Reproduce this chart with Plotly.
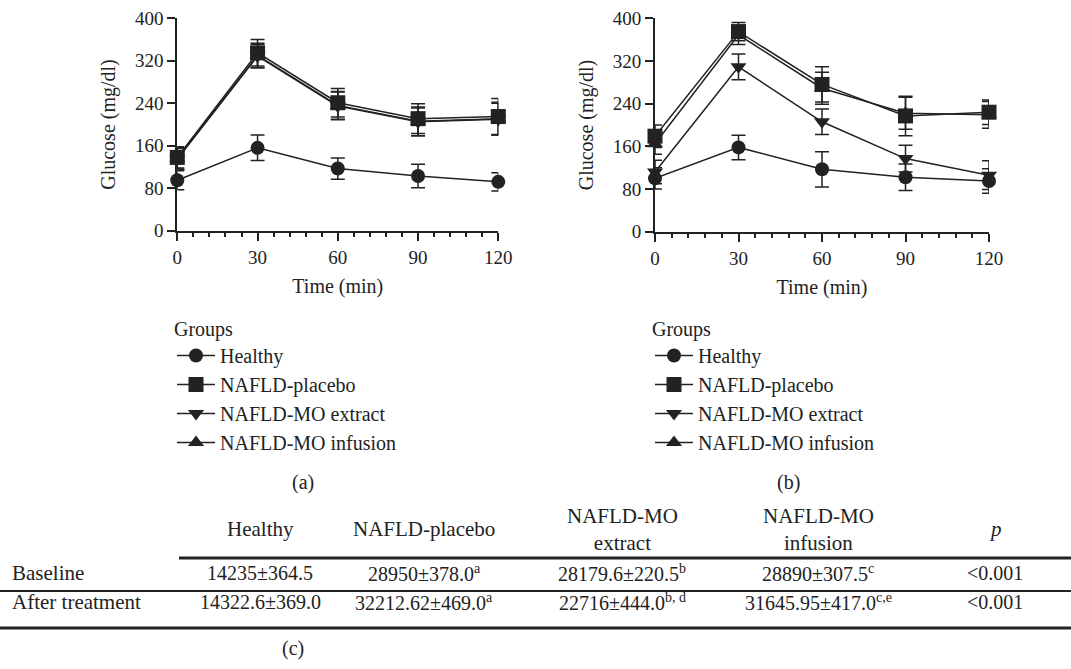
import plotly.graph_objects as go

# ---------------- data ----------------
time_min = [0, 30, 60, 90, 120]
groups = ["Healthy", "NAFLD-placebo", "NAFLD-MO extract", "NAFLD-MO infusion"]

# panel (a): baseline
a_healthy = [95, 156, 117, 103, 92]
a_healthy_sd = [18, 24, 20, 22, 17]
a_placebo = [138, 335, 241, 211, 215]
a_placebo_sd = [20, 25, 27, 28, 34]
a_extract = [135, 329, 235, 205, 210]
a_extract_sd = [20, 22, 26, 26, 30]
a_infusion = [136, 330, 236, 206, 211]
a_infusion_sd = [20, 23, 26, 27, 31]

# panel (b): after treatment
b_healthy = [100, 158, 117, 102, 95]
b_healthy_sd = [20, 23, 33, 25, 23]
b_placebo = [179, 375, 276, 217, 224]
b_placebo_sd = [21, 17, 33, 37, 23]
b_extract = [112, 309, 206, 137, 106]
b_extract_sd = [22, 24, 24, 25, 27]
b_infusion = [165, 369, 269, 222, 219]
b_infusion_sd = [20, 18, 30, 30, 25]

y_ticks = [0, 80, 160, 240, 320, 400]
x_ticks = [0, 30, 60, 90, 120]

# panel (c): table
table_columns = ["Healthy", "NAFLD-placebo", "NAFLD-MO<br>extract", "NAFLD-MO<br>infusion", "<i>p</i>"]
row_labels = ["Baseline", "After treatment"]
baseline_values = ["14235±364.5", "28950±378.0<sup>a</sup>", "28179.6±220.5<sup>b</sup>",
                   "28890±307.5<sup>c</sup>", "<0.001"]
after_values = ["14322.6±369.0", "32212.62±469.0<sup>a</sup>", "22716±444.0<sup>b, d</sup>",
                "31645.95±417.0<sup>c,e</sup>", "<0.001"]

# ---------------- style ----------------
W, H = 1071, 669
FONT = "Liberation Serif, Times New Roman, serif"
INK = "#222222"
px = lambda v: v / W
py = lambda v: 1 - v / H

symbols = {"Healthy": "circle", "NAFLD-placebo": "square",
           "NAFLD-MO extract": "triangle-down", "NAFLD-MO infusion": "triangle-up"}
msize = {"Healthy": 14, "NAFLD-placebo": 15, "NAFLD-MO extract": 14, "NAFLD-MO infusion": 14}
rank = {g: i for i, g in enumerate(groups)}

fig = go.Figure()

panels = [
    ("x", "y", "legend", {"Healthy": (a_healthy, a_healthy_sd), "NAFLD-MO extract": (a_extract, a_extract_sd),
                          "NAFLD-MO infusion": (a_infusion, a_infusion_sd), "NAFLD-placebo": (a_placebo, a_placebo_sd)}),
    ("x2", "y2", "legend2", {"Healthy": (b_healthy, b_healthy_sd), "NAFLD-MO extract": (b_extract, b_extract_sd),
                             "NAFLD-MO infusion": (b_infusion, b_infusion_sd), "NAFLD-placebo": (b_placebo, b_placebo_sd)}),
]

for xa, ya, leg, series in panels:
    for name, (vals, sd) in series.items():
        fig.add_trace(go.Scatter(
            x=time_min, y=vals, name=name, mode="lines+markers",
            xaxis=xa, yaxis=ya, legend=leg, legendrank=rank[name] + 1,
            line=dict(color=INK, width=1.5),
            marker=dict(symbol=symbols[name], size=msize[name], color=INK),
            error_y=dict(type="data", array=sd, color=INK, thickness=1.5, width=7),
            cliponaxis=False,
        ))

def xaxis_cfg(x0, x1):
    return dict(domain=[px(x0), px(x1)], range=[0, 120], tickvals=x_ticks,
                ticks="outside", ticklen=8, tickwidth=2, tickcolor=INK,
                showline=True, linewidth=2, linecolor=INK, showgrid=False, zeroline=False,
                minor=dict(dtick=6, ticks="outside", ticklen=4, tickwidth=1.5, tickcolor=INK, showgrid=False),
                tickfont=dict(family=FONT, size=19, color=INK), ticklabelstandoff=0,
                automargin=False,
                title=dict(text="Time (min)", font=dict(family=FONT, size=20, color=INK), standoff=12))

def yaxis_cfg(y0, y1):
    return dict(domain=[py(y0), py(y1)], range=[0, 400], tickvals=y_ticks,
                ticks="outside", ticklen=8, tickwidth=2, tickcolor=INK,
                showline=True, linewidth=2, linecolor=INK, showgrid=False, zeroline=False,
                tickfont=dict(family=FONT, size=19, color=INK), ticklabelstandoff=0,
                automargin=False,
                title=dict(text="Glucose (mg/dl)", font=dict(family=FONT, size=20, color=INK), standoff=14))

legend_common = dict(xanchor="left", yanchor="top", bgcolor="rgba(0,0,0,0)", itemwidth=38,
                     font=dict(family=FONT, size=20, color=INK), tracegroupgap=0,
                     title=dict(text="Groups", font=dict(family=FONT, size=20, color=INK)))

fig.update_layout(
    width=W, height=H, margin=dict(l=0, r=0, t=0, b=0, autoexpand=False),
    paper_bgcolor="white", plot_bgcolor="white",
    font=dict(family=FONT, color=INK),
    xaxis=dict(anchor="y", **xaxis_cfg(177.3, 498.3)),
    yaxis=dict(anchor="x", **yaxis_cfg(230.7, 18.3)),
    xaxis2=dict(anchor="y2", **xaxis_cfg(655, 989)),
    yaxis2=dict(anchor="x2", **yaxis_cfg(231.7, 18.3)),
    legend=dict(x=px(172), y=py(310), **legend_common),
    legend2=dict(x=px(650), y=py(310), **legend_common),
)

ann = []
def text(x, y, s, size=20, xanchor="center"):
    ann.append(dict(x=px(x), y=py(y), xref="paper", yref="paper", text=s, showarrow=False,
                    xanchor=xanchor, yanchor="middle", font=dict(family=FONT, size=size, color=INK)))

text(303, 482, "(a)", 20)
text(788, 482, "(b)", 20)
text(293, 648, "(c)", 20)

col_x = [260, 424, 622, 818, 995]
for cx, h in zip(col_x, table_columns):
    text(cx, 529, h, 21)
for ry, label, vals in zip([573, 602], row_labels, [baseline_values, after_values]):
    text(10, ry, label, 21, xanchor="left")
    for cx, v in zip(col_x, vals):
        text(cx, ry, v, 20)

fig.update_layout(annotations=ann)

for x0, yv, w in [(179, 558, 3), (0, 591, 2), (0, 628, 3)]:
    fig.add_shape(type="line", xref="paper", yref="paper", x0=px(x0), x1=1, y0=py(yv), y1=py(yv),
                  line=dict(color=INK, width=w))

fig.write_html("out.html", config={"displayModeBar": False},
               post_script="document.body.style.margin='0px';")
